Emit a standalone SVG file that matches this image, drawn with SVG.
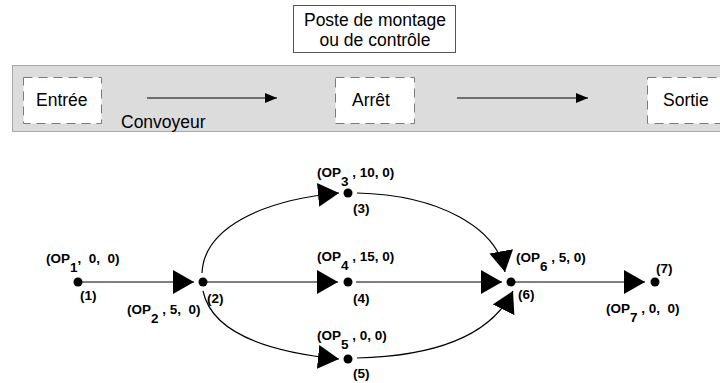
<svg xmlns="http://www.w3.org/2000/svg" width="720" height="383" viewBox="0 0 720 383">
  <style>
    .lbl { font-family: "Liberation Sans", Arial, sans-serif; font-size: 17.5px; fill: #000; }
    .op { font-family: "Liberation Sans", Arial, sans-serif; font-size: 13.5px; font-weight: bold; fill: #000; white-space: pre; }
    .slot { fill: #fff; stroke: #7a7a7a; stroke-width: 1; stroke-dasharray: 9 6; }
    .edge { fill: none; stroke: #000; stroke-width: 1.2; }
    .dot { fill: #000; }
  </style>
  <defs>
    <marker id="big" markerUnits="userSpaceOnUse" markerWidth="22" markerHeight="24" refX="21" refY="12" orient="auto">
      <path d="M0,0 L21,12 L0,24 z" fill="#000"/>
    </marker>
    <marker id="small" markerUnits="userSpaceOnUse" markerWidth="13" markerHeight="10" refX="12" refY="5" orient="auto">
      <path d="M0,0 L12,5 L0,10 z" fill="#000"/>
    </marker>
  </defs>

  <rect width="720" height="383" fill="#fff"/>

  <!-- workstation caption -->
  <g id="poste">
    <rect x="293.5" y="5.5" width="162" height="47" fill="#fff" stroke="#555"/>
    <text class="lbl" x="375" y="26" text-anchor="middle">Poste de montage</text>
    <text class="lbl" x="375" y="46" text-anchor="middle">ou de contrôle</text>
  </g>

  <!-- conveyor band -->
  <g id="convoyeur">
    <rect x="12.5" y="65.5" width="720" height="66" fill="#dcdcdc" stroke="#a8a8a8"/>
    <text class="lbl" x="121" y="128">Convoyeur</text>
    <line x1="147" y1="98" x2="277" y2="98" stroke="#000" stroke-width="1" marker-end="url(#small)"/>
    <line x1="457" y1="98" x2="588" y2="98" stroke="#000" stroke-width="1" marker-end="url(#small)"/>
  </g>
  <g id="entree">
    <rect class="slot" x="23.5" y="77.5" width="78" height="46"/>
    <text class="lbl" x="36" y="106">Entrée</text>
  </g>
  <g id="arret">
    <rect class="slot" x="335.5" y="77.5" width="79" height="46"/>
    <text class="lbl" x="352" y="106">Arrêt</text>
  </g>
  <g id="sortie">
    <rect class="slot" x="647.5" y="77.5" width="90" height="46"/>
    <text class="lbl" x="663" y="106">Sortie</text>
  </g>

  <!-- precedence graph connectors -->
  <g id="connectors">
    <line class="edge" x1="82" y1="282" x2="194" y2="282" marker-end="url(#big)"/>
    <line class="edge" x1="207" y1="282" x2="338" y2="282" marker-end="url(#big)"/>
    <path class="edge" d="M202,273 C204,228 262,200 339,193" marker-end="url(#big)"/>
    <path class="edge" d="M203,291 C212,333 268,352 339,359" marker-end="url(#big)"/>
    <path class="edge" d="M357,193 C440,195 497,228 505,272" marker-end="url(#big)"/>
    <line class="edge" x1="356" y1="282" x2="502" y2="282" marker-end="url(#big)"/>
    <path class="edge" d="M357,358 C440,356 492,333 513,291" marker-end="url(#big)"/>
    <line class="edge" x1="515" y1="282" x2="645" y2="282" marker-end="url(#big)"/>
  </g>

  <!-- operations -->
  <g id="n1">
    <circle class="dot" cx="78" cy="282" r="4.5"/>
    <text class="op" x="46" y="263">(OP<tspan dy="9">1</tspan><tspan dy="-9">,  0,  0)</tspan></text>
    <text class="op" x="80" y="300">(1)</text>
  </g>
  <g id="n2">
    <circle class="dot" cx="203" cy="282" r="4.5"/>
    <text class="op" x="127" y="314">(OP<tspan dy="9">2</tspan><tspan dy="-9"> , 5,  0)</tspan></text>
    <text class="op" x="207" y="303">(2)</text>
  </g>
  <g id="n3">
    <circle class="dot" cx="348" cy="193" r="4.5"/>
    <text class="op" x="317" y="177">(OP<tspan dy="9">3</tspan><tspan dy="-9"> , 10, 0)</tspan></text>
    <text class="op" x="353" y="213">(3)</text>
  </g>
  <g id="n4">
    <circle class="dot" cx="348" cy="282" r="4.5"/>
    <text class="op" x="317" y="261">(OP<tspan dy="9">4</tspan><tspan dy="-9"> , 15, 0)</tspan></text>
    <text class="op" x="353" y="303">(4)</text>
  </g>
  <g id="n5">
    <circle class="dot" cx="348" cy="359" r="4.5"/>
    <text class="op" x="317" y="340">(OP<tspan dy="9">5</tspan><tspan dy="-9"> , 0, 0)</tspan></text>
    <text class="op" x="353" y="378">(5)</text>
  </g>
  <g id="n6">
    <circle class="dot" cx="511" cy="282" r="4.5"/>
    <text class="op" x="516" y="262">(OP<tspan dy="9">6</tspan><tspan dy="-9"> , 5, 0)</tspan></text>
    <text class="op" x="518" y="299">(6)</text>
  </g>
  <g id="n7">
    <circle class="dot" cx="655" cy="282" r="4.5"/>
    <text class="op" x="656" y="273">(7)</text>
    <text class="op" x="606" y="313">(OP<tspan dy="9">7</tspan><tspan dy="-9"> , 0,  0)</tspan></text>
  </g>
</svg>
